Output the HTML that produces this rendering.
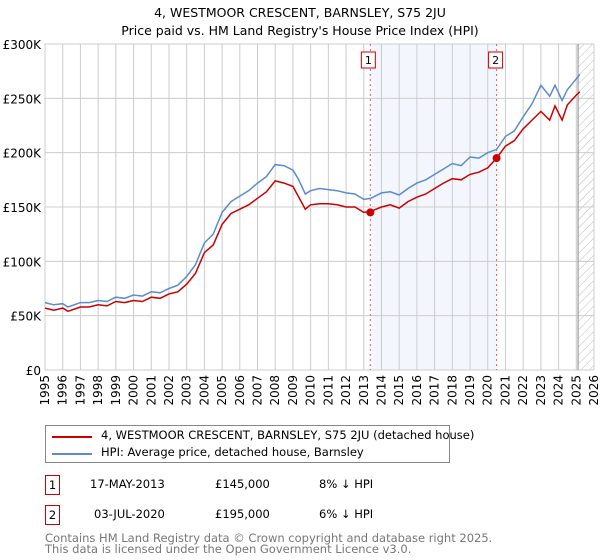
<!DOCTYPE html>
<html><head><meta charset="utf-8"><style>
body{margin:0;background:#fff;font-family:"DejaVu Sans","Liberation Sans",sans-serif;}
#wrap{position:relative;width:600px;height:560px;overflow:hidden;}
svg text{font-family:"DejaVu Sans","Liberation Sans",sans-serif;}
.t{position:absolute;font-size:11.5px;color:#000;white-space:nowrap;}
</style></head><body><div id="wrap">
<svg id="c" width="600" height="560">
<defs><pattern id="hatch" width="6" height="6" patternUnits="userSpaceOnUse" patternTransform="rotate(45)"><line x1="0" y1="0" x2="0" y2="6" stroke="#bbb" stroke-width="1"/></pattern></defs>
<text x="300" y="17" text-anchor="middle" font-size="12.5">4, WESTMOOR CRESCENT, BARNSLEY, S75 2JU</text>
<text x="300" y="35" text-anchor="middle" font-size="12.5">Price paid vs. HM Land Registry's House Price Index (HPI)</text>
<g id="grid"></g><g id="marks"></g><g id="axes"></g>
</svg>
<div style="position:absolute;left:45px;top:425px;width:403px;height:36px;border:1px solid #888;">
<div style="position:absolute;left:6px;top:10px;width:40px;height:2px;background:#cc0000"></div>
<div class="t" style="left:55px;top:2px">4, WESTMOOR CRESCENT, BARNSLEY, S75 2JU (detached house)</div>
<div style="position:absolute;left:6px;top:27px;width:40px;height:2px;background:#5b8bd0"></div>
<div class="t" style="left:55px;top:19px">HPI: Average price, detached house, Barnsley</div>
</div>
<div>
<div class="t" style="left:45px;top:475px;width:13px;height:18px;border:1px solid #cc0000;text-align:center;line-height:18px">1</div>
<div class="t" style="left:90px;top:477px">17-MAY-2013</div>
<div class="t" style="left:215px;top:477px">£145,000</div>
<div class="t" style="left:319px;top:477px">8% ↓ HPI</div></div>
<div>
<div class="t" style="left:45px;top:505px;width:13px;height:18px;border:1px solid #cc0000;text-align:center;line-height:18px">2</div>
<div class="t" style="left:94px;top:507px">03-JUL-2020</div>
<div class="t" style="left:215px;top:507px">£195,000</div>
<div class="t" style="left:319px;top:507px">6% ↓ HPI</div></div>
<div class="t" style="left:45px;top:533px;color:#777;line-height:11px;font-size:11.5px">Contains HM Land Registry data © Crown copyright and database right 2025.<br>This data is licensed under the Open Government Licence v3.0.</div>
</div>
<script>
const hpiYears=[1995,1995.5,1996,1996.3,1997,1997.5,1998,1998.5,1999,1999.5,2000,2000.5,2001,2001.5,2002,2002.5,2003,2003.5,2004,2004.5,2005,2005.5,2006,2006.5,2007,2007.5,2008,2008.5,2009,2009.3,2009.7,2010,2010.5,2011,2011.5,2012,2012.5,2013,2013.4,2014,2014.5,2015,2015.5,2016,2016.5,2017,2017.5,2018,2018.5,2019,2019.5,2020,2020.5,2021,2021.5,2022,2022.5,2023,2023.5,2023.8,2024.2,2024.5,2025,2025.2];
const hpiValues=[62,60,61,58,62,62,64,63,67,66,69,68,72,71,75,78,86,97,117,125,145,155,160,165,172,178,189,188,184,176,162,165,167,166,165,163,162,157,158,163,164,161,167,172,175,180,185,190,188,196,195,200,203,215,220,233,245,262,252,262,248,258,268,272];
const priceValues=[57,55,57,54,58,58,60,59,63,62,64,63,67,66,70,72,79,89,108,115,134,144,148,152,158,164,174,172,169,160,148,152,153,153,152,150,150,145,146,150,152,149,155,159,162,167,172,176,175,180,182,186,195,206,211,222,230,238,230,243,230,244,253,256];
const saleYears=[2013.37,2020.5];
const saleValues=[145,195];
const yTicks=[0,50,100,150,200,250,300];
const xTicks=[1995,1996,1997,1998,1999,2000,2001,2002,2003,2004,2005,2006,2007,2008,2009,2010,2011,2012,2013,2014,2015,2016,2017,2018,2019,2020,2021,2022,2023,2024,2025,2026];
const X0=45,X1=594,Y0=370,Y1=44;
const xs=y=>X0+(y-1995)*(X1-X0)/31;
const ys=v=>Y0-v*(Y0-Y1)/300;
const NS="http://www.w3.org/2000/svg";
function mk(tag,attrs,parent){const e=document.createElementNS(NS,tag);for(const k in attrs)e.setAttribute(k,attrs[k]);document.getElementById(parent).appendChild(e);return e;}
let r=mk('rect',{x:xs(saleYears[0]),y:Y1,width:xs(saleYears[1])-xs(saleYears[0]),height:Y0-Y1,fill:'#eef3fc',opacity:0.7},'grid');


let h=mk('rect',{x:xs(2025.1),y:Y1,width:X1-xs(2025.1),height:Y0-Y1,fill:'url(#hatch)'},'grid');


yTicks.forEach(v=>{const l=mk('line',{x1:X0,x2:X1,y1:ys(v),y2:ys(v),stroke:'#ccc'},'grid');


const t=mk('text',{x:X0-4,y:ys(v)+5,'text-anchor':'end','font-size':12},'axes');t.textContent=v===0?'£0':'£'+v+'K';

});
xTicks.forEach(v=>{const l=mk('line',{x1:xs(v),x2:xs(v),y1:Y1,y2:Y0,stroke:'#ccc'},'grid');


const t=mk('text',{x:0,y:0,'text-anchor':'end','font-size':12,transform:`translate(${xs(v)+4},${Y0+5}) rotate(-90)`},'axes');t.textContent=v;

});
let el=mk('line',{x1:xs(2025.1),x2:xs(2025.1),y1:Y1,y2:Y0,stroke:'#888'},'grid');


saleYears.forEach((y,i)=>{const l=mk('line',{x1:xs(y),x2:xs(y),y1:Y1,y2:Y0,stroke:'#e06060','stroke-dasharray':'2,3'},'marks');


const b=mk('rect',{x:xs(y)-12-(i?0:-3),y:52,width:14,height:16,fill:'#fff',stroke:'#cc0000'},'marks');
b.setAttribute('x',xs(y)-(i?8:9));


const t=mk('text',{x:xs(y)-(i?1:2),y:64,'text-anchor':'middle','font-size':11},'marks');t.textContent=i+1;

});
function line(vals,color,name){const d=hpiYears.map((y,i)=>(i?'L':'M')+xs(y).toFixed(1)+','+ys(vals[i]).toFixed(1)).join('');
const p=mk('path',{d:d,fill:'none',stroke:color,'stroke-width':1.5},'marks');

}
line(hpiValues,'#5b8bd0','hpi-line');
line(priceValues,'#cc0000','price-line');
saleYears.forEach((y,i)=>{const c=mk('circle',{cx:xs(y),cy:ys(saleValues[i]),r:4,fill:'#cc0000'},'marks');

});
</script></body></html>
